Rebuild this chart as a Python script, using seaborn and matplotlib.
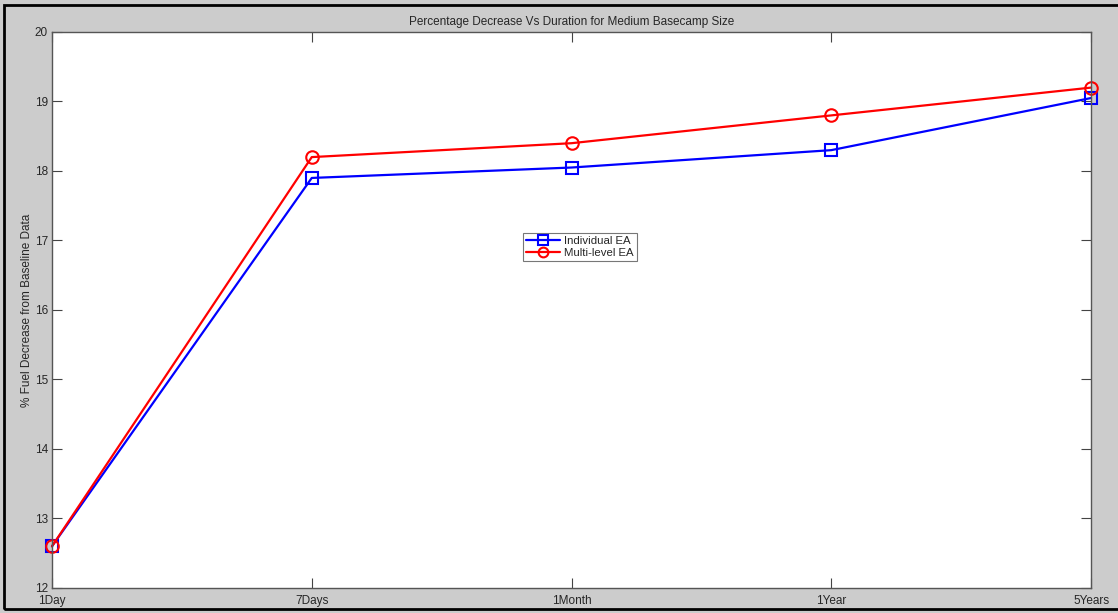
import matplotlib
matplotlib.use("Agg")
import matplotlib.pyplot as plt
from matplotlib.patches import Rectangle
import seaborn as sns
import pandas as pd

durations = ['1Day', '7Days', '1Month', '1Year', '5Years']
individual_ea = [12.6, 17.9, 18.05, 18.3, 19.05]
multilevel_ea = [12.6, 18.2, 18.4, 18.8, 19.2]
series_names = ['Individual EA', 'Multi-level EA']

sns.set_style('white')
plt.rcParams['font.family'] = ['Liberation Sans', 'DejaVu Sans']

df = pd.DataFrame({
    'Duration': durations * 2,
    'Value': individual_ea + multilevel_ea,
    'Series': [series_names[0]] * len(durations) + [series_names[1]] * len(durations),
})

fig = plt.figure(figsize=(11.18, 6.13), dpi=100, facecolor='#cccccc')
ax = fig.add_axes([0.0465, 0.0408, 0.9294, 0.907])

sns.lineplot(data=df, x='Duration', y='Value', hue='Series', style='Series',
             palette={'Individual EA': '#0000ff', 'Multi-level EA': '#ff0000'},
             markers={'Individual EA': 's', 'Multi-level EA': 'o'},
             dashes=False, linewidth=1.6, markersize=9, markerfacecolor='none',
             markeredgewidth=1.5, ax=ax, clip_on=False, sort=False)
for ln in ax.lines:
    ln.set_markerfacecolor('none')
    ln.set_markeredgecolor(ln.get_color())
    ln.set_clip_on(False)

ax.set_xlim(0, 4)
ax.set_ylim(12, 20)
ax.set_yticks(range(12, 21))
ax.set_xlabel('')
ax.set_ylabel('% Fuel Decrease from Baseline Data', fontsize=8.5, labelpad=1)
ax.set_title('Percentage Decrease Vs Duration for Medium Basecamp Size', fontsize=8.5, pad=5)
ax.tick_params(direction='in', length=7, width=0.8, color='#444444', labelsize=8.5,
               bottom=True, left=True, top=True, right=True, pad=3)
ax.tick_params(axis='x', pad=5)
for s in ax.spines.values():
    s.set_color('#555555')
    s.set_linewidth(1)

leg = ax.legend(loc='upper left', bbox_to_anchor=(0.4475, 0.648), fontsize=8.2,
                frameon=True, fancybox=False, edgecolor='#555555',
                handlelength=3, borderpad=0.25, labelspacing=0.15, handletextpad=0.4)
leg.get_frame().set_linewidth(0.8)
for h in leg.get_lines():
    h.set_markerfacecolor('none')
    h.set_markersize(7)

# outer border of the figure window (open on the right side)
fig.patches.append(Rectangle((0.004, 0.006), 1.05, 0.986, transform=fig.transFigure,
                             fill=False, edgecolor='black', linewidth=2))

fig.savefig('out.png', dpi=100, facecolor=fig.get_facecolor())
